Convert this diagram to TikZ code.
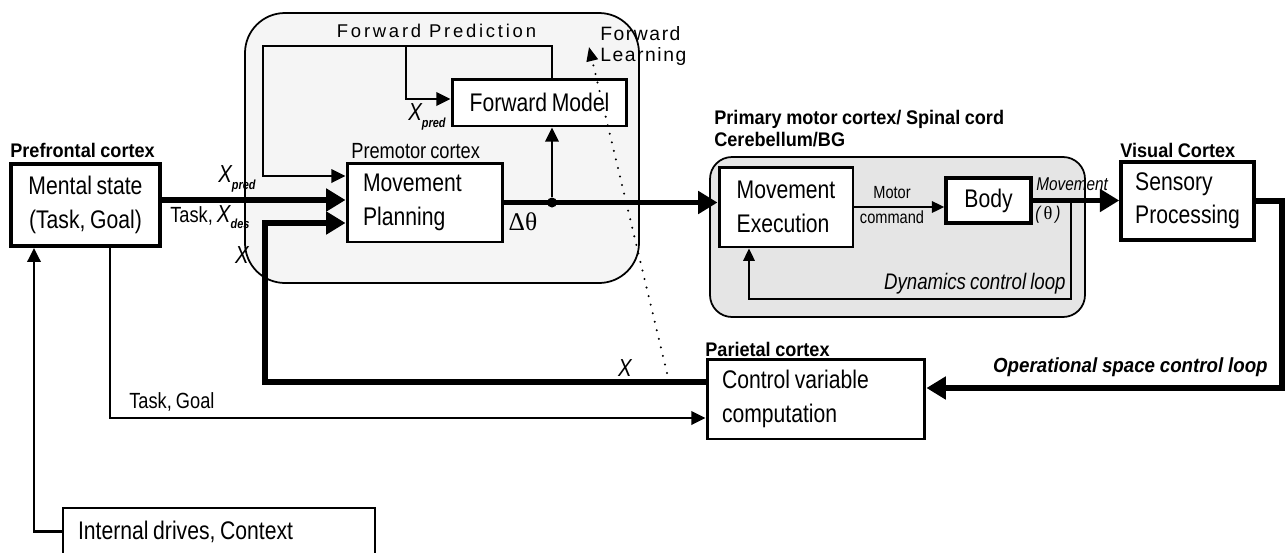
\documentclass[tikz,border=0pt]{standalone}
\usepackage{fontspec}
\setmainfont{Liberation Sans}[FakeStretch=0.83,WordSpace=0.8]
\newfontfamily\labelfont{Liberation Sans}[FakeStretch=0.92,WordSpace=0.9]
\newfontfamily\spacedfont{Liberation Sans}[LetterSpace=15]
\newfontfamily\learnfont{Liberation Sans}[LetterSpace=8]
\newfontfamily\greekfont{Liberation Serif}
\usetikzlibrary{positioning,calc,arrows.meta}
\newcommand{\sigsub}[1]{\raisebox{-0.55ex}{\fontsize{7.5}{8}\selectfont\bfseries\itshape #1}}

\begin{document}
\begin{tikzpicture}[
    x=0.02cm, y=-0.02cm,
    block node/.style={draw,line width=1.7pt,fill=white,inner sep=0pt,align=flush left,font=\fontsize{14.5}{19}\selectfont},
    area/.style={draw,line width=1pt},
    region label/.style={inner sep=0pt,font=\labelfont\bfseries\fontsize{11.2}{13}\selectfont},
    sig label/.style={inner sep=0pt,font=\fontsize{14}{15}\selectfont\itshape},
    small label/.style={inner sep=0pt,align=center,font=\fontsize{10}{14}\selectfont},
    thick signal/.style={draw,line width=3.4pt,-{Triangle[length=11pt,width=12.5pt]}},
    signal/.style={draw,line width=1.6pt,-{Triangle[length=8pt,width=7.5pt]}},
    thin signal/.style={draw,line width=1.1pt,-{Triangle[length=7pt,width=6.5pt]}},
    learning/.style={draw,line width=1.3pt,line cap=round,dash pattern=on 0pt off 5pt,-{Triangle[length=8pt,width=6.5pt]}},
]
    \useasboundingbox (0,0) rectangle (1285,552);

    % grey areas
    \draw[area,fill=black!4,rounded corners=0.8cm] (245,13) rectangle (639,283);
    \draw[area,fill=black!10,rounded corners=0.44cm] (710,157) rectangle (1085,317);

    % blocks
    \node[block node,align=center,line width=2.2pt,minimum width=2.98cm,minimum height=1.64cm] (mental) at (85.5,205) {Mental state\\(Task, Goal)};
    \node[block node,text width=2.48cm,inner xsep=0.32cm,minimum height=1.58cm] (plan) at (425,202.5) {Movement\\Planning};
    \node[block node,minimum width=3.5cm,minimum height=0.94cm] (fwd) at (539.5,102.5) {Forward Model};
    \node[block node,minimum width=2.68cm,minimum height=1.6cm] (exec) at (786,207) {Movement\\Execution};
    \node[block node,line width=2pt,minimum width=1.7cm,minimum height=0.9cm] (body) at (988.5,200.5) {Body};
    \node[block node,line width=2pt,minimum width=2.66cm,minimum height=1.56cm] (sens) at (1187.5,201) {Sensory\\Processing};
    \node[block node,text width=3.76cm,inner xsep=0.3cm,minimum height=1.6cm] (ctrl) at (816,399) {Control variable\\computation};
    \node[block node,line width=1.4pt,text width=5.64cm,inner xsep=0.3cm,minimum height=0.94cm] (drives) at (219,531.5) {Internal drives, Context};

    % region labels
    \node[region label,anchor=west] (pfc) at (10,150) {Prefrontal cortex};
    \node[inner sep=0pt,anchor=west,font=\fontsize{12.5}{14}\selectfont] (pmc) at (351,151) {Premotor cortex};
    \node[region label,anchor=west] (m1) at (714,119) {Primary motor cortex/ Spinal cord};
    \node[region label,anchor=west] (cbg) at (714,140) {Cerebellum/BG};
    \node[region label,anchor=west] (vis) at (1120,150) {Visual Cortex};
    \node[region label,anchor=west] (par) at (705,349) {Parietal cortex};

    % corner points
    \coordinate (fpl) at (263,46);
    \coordinate (fpb) at (406,46);
    \coordinate (fpr) at (552,46);
    \coordinate (xturn) at (265,223);
    \coordinate (dynr) at (1071,299);
    \coordinate (dynl) at (749,299);
    \coordinate (osc) at (1282,388);
    \coordinate (tg) at (110,0);
    \coordinate (idc) at (34,0);
    \coordinate (fls) at (667,373);
    \coordinate (fle) at (589,47);

    % forward prediction loop
    \draw[signal] (fwd.north -| fpr) -- (fpr) -- (fpl) |- ([yshift=0.53cm]plan.west);
    \draw[signal] (fpb) |- ([yshift=0.07cm]fwd.west);

    % inputs to planning
    \path[thick signal] ([yshift=0.1cm]mental.east) -- ([yshift=0.05cm]plan.west);
    \path[thick signal] ([yshift=0.34cm]ctrl.west) -| (xturn) -- (xturn -| plan.west);

    % planning output
    \path[thick signal] (plan.east) -- (plan.east -| exec.west);
    \node[circle,fill,inner sep=0pt,minimum size=0.2cm] (jn) at (fpr |- plan.east) {};
    \draw[signal] (jn) -- (jn |- fwd.south);

    % execution side
    \draw[thin signal] (exec.east) -- (exec.east -| body.west);
    \path[thick signal] (body.east) -- (body.east -| sens.west);
    \draw[thin signal] (dynr |- body.east) -- (dynr) -- (dynl) -- (dynl |- exec.south);

    % operational loop
    \path[thick signal] (sens.east) -| (osc) -- (osc -| ctrl.east);

    % task, goal and drives
    \draw[signal] (mental.south -| tg) |- ([yshift=-0.38cm]ctrl.west);
    \draw[signal] (drives.west) -| (idc |- mental.south);

    % forward learning
    \draw[learning] (fls) -- (fle);

    % signal labels
    \node[sig label,anchor=base west] (xp1) at (218,182) {X\sigsub{pred}};
    \node[inner sep=0pt,anchor=base west,font=\fontsize{12.5}{14}\selectfont] (xdes) at (170,222) {Task, {\fontsize{14}{15}\selectfont\itshape X}\sigsub{des}};
    \node[sig label] (x1) at (242,255) {X};
    \node[sig label,anchor=base west] (xp2) at (408,120) {X\sigsub{pred}};
    \node[inner sep=0pt,font=\fontsize{14.5}{16}\greekfont] (dth) at (523,222) {Δθ};
    \node[sig label] (x2) at (625,368) {X};
    \node[inner sep=0pt,anchor=west,font=\fontsize{12.5}{14}\selectfont] (tgl) at (129,402) {Task, Goal};
    \node[small label] (mc) at (892,205) {Motor\\command};
    \node[inner sep=0pt,anchor=west,font=\fontsize{10.5}{12}\selectfont\itshape] (mv) at (1036,184) {Movement};
    \node[inner sep=0pt,anchor=west,font=\fontsize{10.5}{12}\selectfont\itshape] (th) at (1035,215) {(\,{\greekfont\upshape θ}\,)};
    \node[inner sep=0pt,anchor=east,font=\fontsize{12.8}{14}\selectfont\itshape] (dcl) at (1066,284) {Dynamics control loop};
    \node[inner sep=0pt,anchor=east,font=\labelfont\bfseries\itshape\fontsize{11.6}{13}\selectfont] (ocl) at (1268,367) {Operational space control loop};
    \node[inner sep=0pt,font=\spacedfont\fontsize{10.5}{12}\selectfont] (fp) at (436.5,30.5) {Forward Prediction};
    \node[inner sep=0pt,anchor=west,align=left,font=\learnfont\fontsize{11}{12.5}\selectfont] (fl) at (600,46) {Forward\\Learning};
\end{tikzpicture}
\end{document}
